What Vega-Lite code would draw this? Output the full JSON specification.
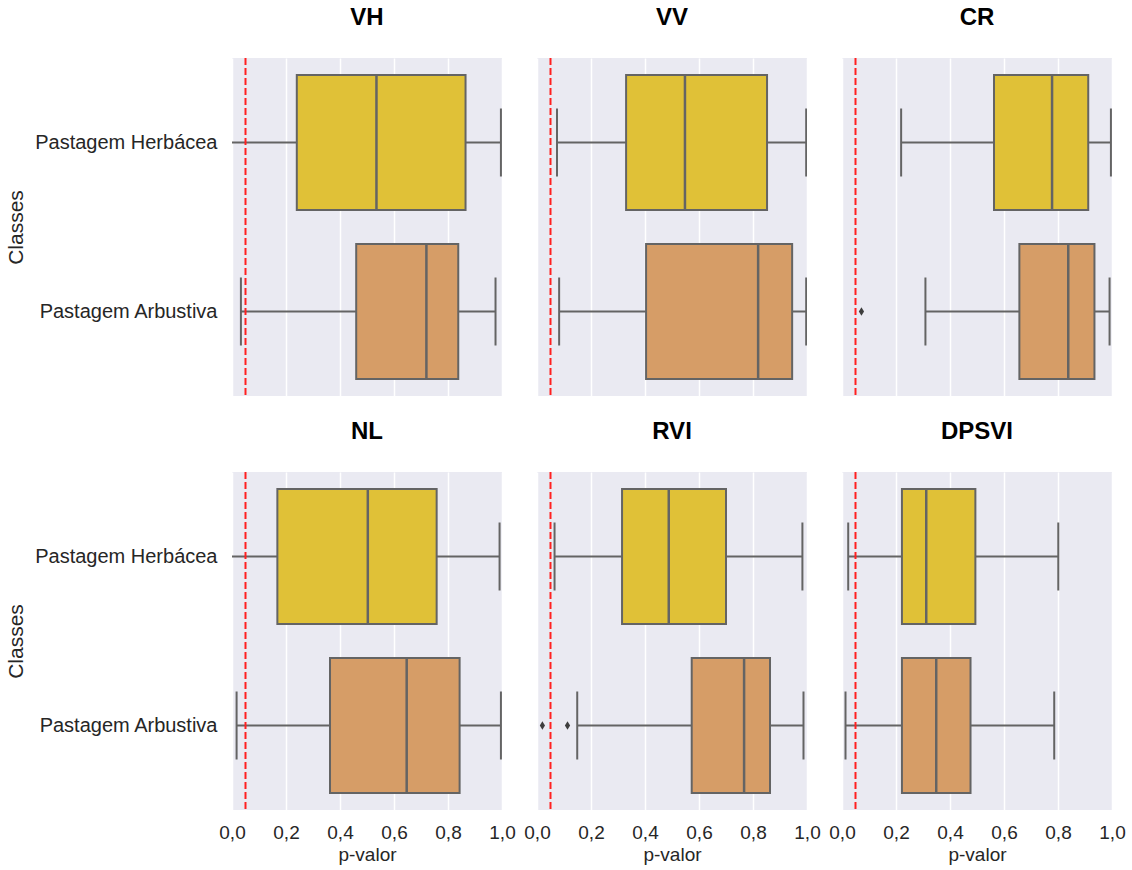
{
  "$schema": "https://vega.github.io/schema/vega-lite/v6.json",
  "padding": {"left": 5, "top": 6, "right": 5, "bottom": 2},
  "background": "white",
  "data": {
    "values": [
      {"indice": "VH", "classe": "Pastagem Herbácea", "min": 0.0, "q1": 0.24, "mediana": 0.535, "q3": 0.865, "max": 0.996},
      {"indice": "VH", "classe": "Pastagem Arbustiva", "min": 0.033, "q1": 0.46, "mediana": 0.72, "q3": 0.838, "max": 0.976},
      {"indice": "VV", "classe": "Pastagem Herbácea", "min": 0.074, "q1": 0.33, "mediana": 0.548, "q3": 0.852, "max": 0.997},
      {"indice": "VV", "classe": "Pastagem Arbustiva", "min": 0.082, "q1": 0.404, "mediana": 0.819, "q3": 0.945, "max": 0.997},
      {"indice": "CR", "classe": "Pastagem Herbácea", "min": 0.219, "q1": 0.563, "mediana": 0.778, "q3": 0.912, "max": 0.996},
      {"indice": "CR", "classe": "Pastagem Arbustiva", "min": 0.309, "q1": 0.657, "mediana": 0.838, "q3": 0.935, "max": 0.991},
      {"indice": "NL", "classe": "Pastagem Herbácea", "min": 0.0, "q1": 0.168, "mediana": 0.503, "q3": 0.758, "max": 0.991},
      {"indice": "NL", "classe": "Pastagem Arbustiva", "min": 0.017, "q1": 0.363, "mediana": 0.647, "q3": 0.843, "max": 0.996},
      {"indice": "RVI", "classe": "Pastagem Herbácea", "min": 0.065, "q1": 0.315, "mediana": 0.488, "q3": 0.7, "max": 0.983},
      {"indice": "RVI", "classe": "Pastagem Arbustiva", "min": 0.149, "q1": 0.573, "mediana": 0.767, "q3": 0.863, "max": 0.987},
      {"indice": "DPSVI", "classe": "Pastagem Herbácea", "min": 0.023, "q1": 0.222, "mediana": 0.312, "q3": 0.494, "max": 0.801},
      {"indice": "DPSVI", "classe": "Pastagem Arbustiva", "min": 0.013, "q1": 0.222, "mediana": 0.349, "q3": 0.476, "max": 0.786},
      {"indice": "CR", "classe": "Pastagem Arbustiva", "outlier": 0.072},
      {"indice": "RVI", "classe": "Pastagem Arbustiva", "outlier": 0.02},
      {"indice": "RVI", "classe": "Pastagem Arbustiva", "outlier": 0.113}
    ]
  },
  "facet": {
    "field": "indice",
    "type": "nominal",
    "sort": ["VH", "VV", "CR", "NL", "RVI", "DPSVI"],
    "header": {
      "title": null,
      "labelFontSize": 24,
      "labelFontWeight": "bold",
      "labelColor": "#000000",
      "labelFont": "Liberation Sans",
      "labelPadding": 27
    }
  },
  "columns": 3,
  "spacing": {"row": 23, "column": 34},
  "spec": {
    "width": 270,
    "height": 338,
    "layer": [
      {
        "transform": [{"filter": "isValid(datum.q1)"}],
        "mark": {"type": "rule", "color": "#646464", "strokeWidth": 2},
        "encoding": {
          "x": {
            "field": "min",
            "type": "quantitative",
            "title": "p-valor",
            "scale": {"domain": [0, 1], "nice": false},
            "axis": {"titleFontSize": 19, "titleFontWeight": "normal", "titleColor": "#262626", "titlePadding": 3}
          },
          "x2": {"field": "max"},
          "y": {
            "field": "classe",
            "type": "nominal",
            "title": "Classes",
            "sort": ["Pastagem Herbácea", "Pastagem Arbustiva"],
            "axis": {"titleFontSize": 21, "titleFontWeight": "normal", "titleColor": "#262626", "titlePadding": 8, "labelLimit": 400}
          }
        }
      },
      {
        "transform": [{"filter": "isValid(datum.q1) && datum.min > 0.005"}],
        "mark": {"type": "tick", "color": "#646464", "size": 68, "thickness": 2, "opacity": 1, "clip": true},
        "encoding": {
          "x": {"field": "min", "type": "quantitative"},
          "y": {"field": "classe", "type": "nominal", "sort": ["Pastagem Herbácea", "Pastagem Arbustiva"]}
        }
      },
      {
        "transform": [{"filter": "isValid(datum.q1)"}],
        "mark": {"type": "tick", "color": "#646464", "size": 68, "thickness": 2, "opacity": 1, "clip": true},
        "encoding": {
          "x": {"field": "max", "type": "quantitative"},
          "y": {"field": "classe", "type": "nominal", "sort": ["Pastagem Herbácea", "Pastagem Arbustiva"]}
        }
      },
      {
        "transform": [{"filter": "isValid(datum.q1)"}],
        "mark": {"type": "bar", "size": 135, "stroke": "#646464", "strokeWidth": 2, "opacity": 1},
        "encoding": {
          "x": {"field": "q1", "type": "quantitative"},
          "x2": {"field": "q3"},
          "y": {"field": "classe", "type": "nominal", "sort": ["Pastagem Herbácea", "Pastagem Arbustiva"]},
          "color": {
            "field": "classe",
            "type": "nominal",
            "scale": {"domain": ["Pastagem Herbácea", "Pastagem Arbustiva"], "range": ["#E0C137", "#D69D67"]},
            "legend": null
          }
        }
      },
      {
        "transform": [{"filter": "isValid(datum.q1)"}],
        "mark": {"type": "tick", "color": "#646464", "size": 135, "thickness": 2.5, "opacity": 1},
        "encoding": {
          "x": {"field": "mediana", "type": "quantitative"},
          "y": {"field": "classe", "type": "nominal", "sort": ["Pastagem Herbácea", "Pastagem Arbustiva"]}
        }
      },
      {
        "transform": [{"filter": "isValid(datum.outlier)"}],
        "mark": {"type": "point", "shape": "M0,-1L0.6,0L0,1L-0.6,0Z", "filled": true, "color": "#3d3d3d", "size": 75, "opacity": 1},
        "encoding": {
          "x": {"field": "outlier", "type": "quantitative"},
          "y": {"field": "classe", "type": "nominal", "sort": ["Pastagem Herbácea", "Pastagem Arbustiva"]}
        }
      },
      {
        "transform": [{"filter": "isValid(datum.q1) && datum.classe === 'Pastagem Herbácea'"}],
        "mark": {"type": "rule", "color": "#FF2020", "strokeWidth": 2, "strokeDash": [7, 3]},
        "encoding": {
          "x": {"datum": 0.05, "type": "quantitative"}
        }
      }
    ]
  },
  "config": {
    "font": "Liberation Sans",
    "view": {"fill": "#EAEAF2", "stroke": null},
    "scale": {"bandPaddingInner": 0, "bandPaddingOuter": 0},
    "axisX": {
      "values": [0, 0.2, 0.4, 0.6, 0.8, 1.0],
      "labelExpr": "replace(format(datum.value, '.1f'), '.', ',')",
      "labelFontSize": 19,
      "labelColor": "#262626",
      "labelPadding": 12,
      "labelFlush": false,
      "labelOverlap": false,
      "ticks": false,
      "domain": false,
      "grid": true,
      "gridColor": "#FFFFFF",
      "gridWidth": 1.5
    },
    "axisY": {
      "labelFontSize": 20,
      "labelColor": "#262626",
      "labelPadding": 14,
      "labelLimit": 400,
      "ticks": false,
      "domain": false,
      "grid": false
    }
  }
}
